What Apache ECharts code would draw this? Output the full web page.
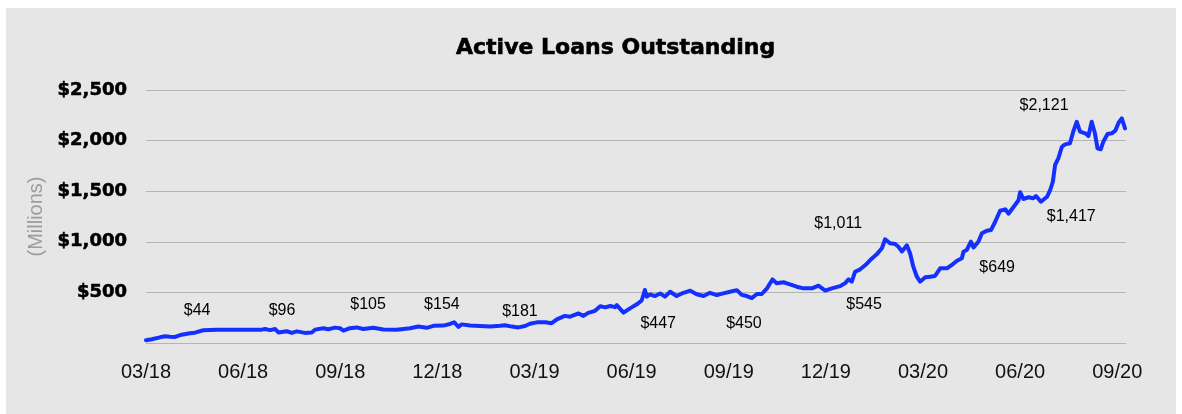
<!DOCTYPE html>
<html>
<head>
<meta charset="utf-8">
<script src="https://cdn.jsdelivr.net/npm/echarts@6/dist/echarts.min.js"></script>
<style>
  html, body { margin: 0; padding: 0; background: #ffffff; }
  #chart { width: 1182px; height: 414px; }
</style>
</head>
<body>
<div id="chart"></div>
<script>
// Months elapsed since March 2018 for each observation
const months = [
  0.00, 0.18, 0.43, 0.59, 0.74, 0.90, 1.10, 1.36, 1.51, 1.77, 2.18, 2.90, 3.57, 3.68, 3.83, 3.99,
  4.09, 4.35, 4.50, 4.66, 4.91, 5.12, 5.22, 5.48, 5.63, 5.84, 5.99, 6.10, 6.30, 6.51, 6.71, 7.02,
  7.33, 7.74, 8.16, 8.41, 8.67, 8.88, 9.18, 9.39, 9.52, 9.65, 9.75, 10.01, 10.32, 10.63, 10.94, 11.09,
  11.30, 11.50, 11.71, 11.86, 12.07, 12.33, 12.53, 12.69, 12.94, 13.10, 13.36, 13.51, 13.66, 13.87, 14.03, 14.18,
  14.34, 14.49, 14.54, 14.75, 14.95, 15.16, 15.31, 15.41, 15.47, 15.57, 15.72, 15.88, 16.03, 16.19, 16.39, 16.60,
  16.81, 17.01, 17.22, 17.42, 17.63, 17.83, 18.04, 18.25, 18.40, 18.56, 18.71, 18.87, 19.02, 19.18, 19.35, 19.48,
  19.69, 19.89, 20.10, 20.31, 20.57, 20.77, 20.98, 21.18, 21.44, 21.59, 21.70, 21.80, 21.90, 22.06, 22.22, 22.37,
  22.57, 22.73, 22.83, 22.98, 23.14, 23.24, 23.35, 23.50, 23.60, 23.70, 23.81, 23.91, 24.07, 24.22, 24.37, 24.53,
  24.74, 24.89, 25.05, 25.20, 25.25, 25.35, 25.48, 25.56, 25.71, 25.82, 25.97, 26.10, 26.23, 26.38, 26.54, 26.64,
  26.79, 26.95, 27.00, 27.10, 27.26, 27.41, 27.49, 27.64, 27.83, 27.93, 28.01, 28.08, 28.18, 28.29, 28.39, 28.54,
  28.64, 28.75, 28.85, 29.01, 29.11, 29.21, 29.31, 29.39, 29.49, 29.57, 29.70, 29.83, 29.94, 30.04, 30.14, 30.24
];

// Active loans outstanding, $ millions
const loans = [
  28, 37, 56, 66, 62, 60, 82, 96, 102, 126, 132, 130, 132, 138, 127, 138,
  104, 116, 100, 115, 100, 104, 132, 146, 136, 152, 146, 122, 146, 154, 138, 150,
  133, 132, 145, 163, 150, 170, 172, 188, 205, 160, 184, 172, 168, 162, 170, 176,
  162, 154, 168, 190, 204, 205, 196, 234, 268, 260, 292, 268, 298, 318, 364, 352,
  366, 354, 374, 300, 342, 382, 420, 524, 458, 480, 464, 490, 458, 506, 464, 496,
  516, 482, 464, 496, 474, 490, 506, 522, 476, 464, 444, 484, 484, 540, 628, 590,
  600, 580, 556, 540, 540, 566, 518, 540, 562, 590, 628, 606, 704, 728, 770, 820,
  876, 936, 1025, 985, 978, 951, 905, 965, 886, 754, 655, 606, 649, 655, 662, 738,
  738, 771, 813, 837, 902, 919, 1001, 945, 1001, 1084, 1110, 1116, 1198, 1307, 1321, 1278,
  1341, 1410, 1490, 1423, 1440, 1430, 1452, 1396, 1445, 1512, 1594, 1759, 1825, 1939, 1963, 1973,
  2088, 2186, 2088, 2072, 2045, 2186, 2072, 1924, 1914, 1989, 2065, 2072, 2098, 2177, 2220, 2121
];

// Quarter tick labels, one every three months
const quarterTicks = ['03/18', '06/18', '09/18', '12/18', '03/19', '06/19',
                      '09/19', '12/19', '03/20', '06/20', '09/20'];

// Quarterly figures written beside the line
const noteValues = [44, 96, 105, 154, 181, 447, 450, 545, 1011, 649, 1417, 2121];
// Where each figure sits: month, and height on the value scale
const noteMonths = [1.58, 4.20, 6.86, 9.14, 11.55, 15.82, 18.47, 22.18, 21.38, 26.29, 28.58, 27.74];
const noteLevels = [316, 316, 375, 375, 306, 188, 188, 375, 1176, 741, 1245, 2342];

const fmtMoney = v => '$' + v.toLocaleString('en-US');

const chart = echarts.init(document.getElementById('chart'), null, { renderer: 'canvas' });

chart.setOption({
  animation: false,
  backgroundColor: '#ffffff',
  graphic: [{
    type: 'rect',
    z: -10,
    silent: true,
    shape: { x: 6, y: 8, width: 1170, height: 406 },
    style: { fill: '#e6e6e6' }
  }],
  title: {
    text: 'Active Loans Outstanding',
    left: 451,
    top: 32,
    textStyle: {
      fontFamily: 'DejaVu Sans',
      fontWeight: 'bold',
      fontSize: 22,
      color: '#000000',
      textBorderColor: '#000000',
      textBorderWidth: 0.6
    }
  },
  grid: { left: 146, right: 56, top: 90, bottom: 71, containLabel: false },
  xAxis: {
    type: 'value',
    min: 0,
    max: 30.27,
    interval: 3,
    axisLine: { show: false },
    axisTick: { show: false },
    splitLine: { show: false },
    axisLabel: {
      margin: 19,
      fontFamily: 'Liberation Sans',
      fontSize: 20,
      color: '#111111',
      formatter: v => {
        const q = v / 3;
        return Math.abs(q - Math.round(q)) < 1e-6 ? (quarterTicks[Math.round(q)] || '') : '';
      }
    }
  },
  yAxis: {
    type: 'value',
    min: 0,
    max: 2500,
    interval: 500,
    name: '(Millions)',
    nameLocation: 'middle',
    nameRotate: 90,
    nameGap: 100,
    nameTextStyle: {
      fontFamily: 'Liberation Sans',
      fontSize: 20,
      color: '#9c9c9c'
    },
    axisLine: { show: false },
    axisTick: { show: false },
    splitLine: { show: true, lineStyle: { color: '#b4b4b4', width: 1 } },
    axisLabel: {
      margin: 19,
      fontFamily: 'DejaVu Sans',
      fontWeight: 'bold',
      fontSize: 18,
      color: '#000000',
      textBorderColor: '#000000',
      textBorderWidth: 0.6,
      formatter: v => (v === 0 ? '' : fmtMoney(v))
    }
  },
  series: [
    {
      name: 'Active Loans Outstanding',
      type: 'line',
      data: months.map((m, i) => [m, loans[i]]),
      showSymbol: false,
      smooth: false,
      lineStyle: { color: '#1430ff', width: 4, join: 'round', cap: 'round' },
      itemStyle: { color: '#1430ff' },
      z: 3
    },
    {
      name: 'Quarterly',
      type: 'scatter',
      data: noteMonths.map((m, i) => ({ value: [m, noteLevels[i]], amount: noteValues[i] })),
      symbol: 'circle',
      symbolSize: 2,
      itemStyle: { color: 'rgba(0,0,0,0)' },
      label: {
        show: true,
        position: 'inside',
        fontFamily: 'Liberation Sans',
        fontSize: 16,
        color: '#000000',
        opacity: 1,
        textBorderWidth: 0,
        formatter: p => fmtMoney(p.data.amount)
      },
      labelLayout: { hideOverlap: false },
      z: 4
    }
  ]
});
</script>
</body>
</html>
